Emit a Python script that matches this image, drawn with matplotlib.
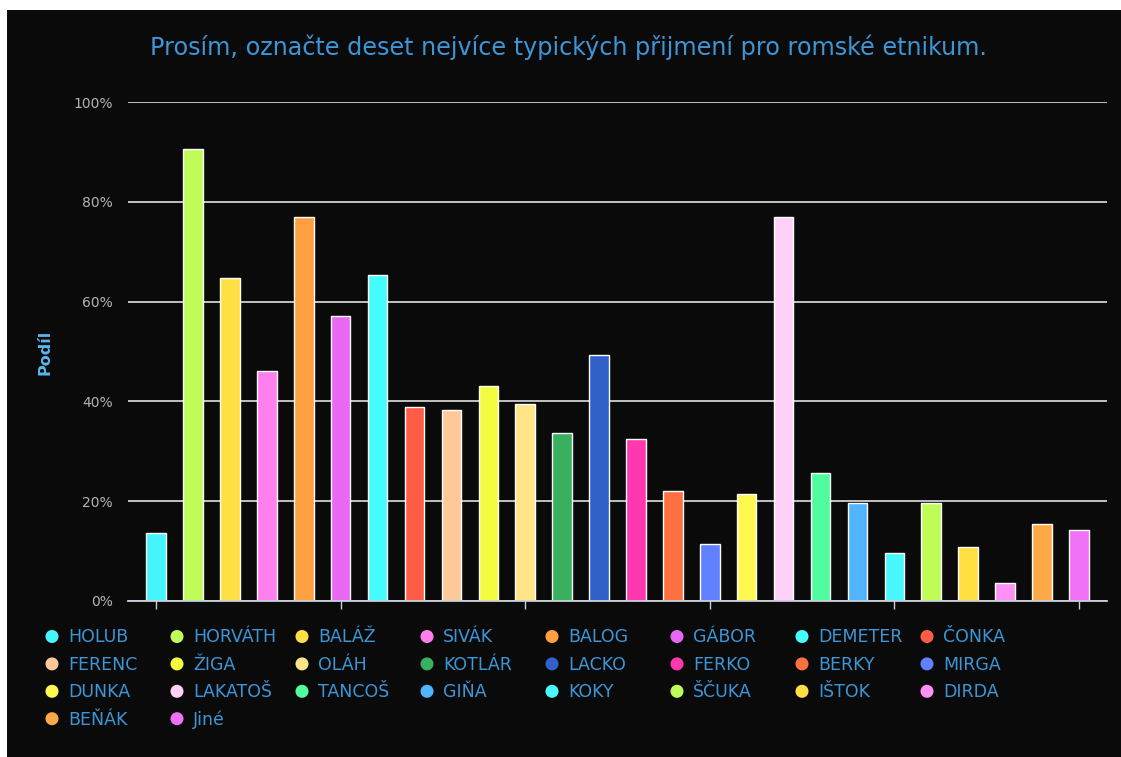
import numpy as np
import matplotlib
matplotlib.use("Agg")
import matplotlib.pyplot as plt
from matplotlib.patches import Rectangle

# ── data ───────────────────────────────────────────────────────────────────
names = ["HOLUB", "HORVÁTH", "BALÁŽ", "SIVÁK", "BALOG", "GÁBOR", "DEMETER",
         "ČONKA", "FERENC", "ŽIGA", "OLÁH", "KOTLÁR", "LACKO", "FERKO",
         "BERKY", "MIRGA", "DUNKA", "LAKATOŠ", "TANCOŠ", "GIŇA", "KOKY",
         "ŠČUKA", "IŠTOK", "DIRDA", "BEŇÁK", "Jiné"]
shares = [13.6, 90.6, 64.8, 46.1, 77.0, 57.2, 65.3, 38.9, 38.3, 43.1, 39.5,
          33.7, 49.2, 32.5, 22.1, 11.5, 21.5, 77.0, 25.7, 19.7, 9.7, 19.7,
          10.8, 3.6, 15.5, 14.3]
colors = ["#44f6fc", "#bffc5a", "#ffe044", "#ff80ec", "#ffa040", "#e868f4",
          "#44fcfc", "#ff5c48", "#ffc898", "#f4fc40", "#ffe488", "#38b060",
          "#3060c8", "#ff38b0", "#ff7040", "#6080ff", "#fff850", "#ffd0f8",
          "#50fca0", "#50b4ff", "#48f8fc", "#c0fc58", "#ffe040", "#ff90f4",
          "#ffa848", "#f070f8"]
y_ticks = [0, 20, 40, 60, 80, 100]
title = "Prosím, označte deset nejvíce typických přijmení pro romské etnikum."

BG = "#0a0a0a"
BLUE = "#3d96d8"

fig = plt.figure(figsize=(11.21, 7.57), dpi=100, facecolor="white")

# dark panel (white margin left / top like the screenshot)
fig.add_artist(Rectangle((7 / 1121, 0), 1, 747 / 757, transform=fig.transFigure,
                         facecolor=BG, edgecolor="none", zorder=-2))

# ── bars ───────────────────────────────────────────────────────────────────
ax = fig.add_axes([128 / 1121, 156 / 757, (1107 - 128) / 1121, 499 / 757])
ax.set_facecolor("none")
x = np.arange(len(names))
ax.bar(x, shares, width=0.53, color=colors, edgecolor="white", linewidth=1,
       zorder=3)

ax.set_xlim(-0.76, 25.76)
ax.set_ylim(0, 100)
ax.set_yticks(y_ticks)
ax.set_yticklabels([f"{t}%" for t in y_ticks], color="#b4b4b4", fontsize=10)
ax.tick_params(axis="y", length=0, pad=11)
ax.set_xticks(x[::5])
ax.set_xticklabels([])
ax.tick_params(axis="x", length=6, width=1, color="#c8d0d8", direction="out")
ax.grid(axis="y", color="#d0d0d0", linewidth=1.3, zorder=1)
for side in ["top", "right", "left"]:
    ax.spines[side].set_visible(False)
ax.spines["bottom"].set_color("#c8d0d8")
ax.spines["bottom"].set_linewidth(1.3)
ax.spines["bottom"].set_zorder(4)

fig.text(568 / 1121, 1 - 47 / 757, title, ha="center", va="center",
         fontsize=17.2, color=BLUE)
fig.text(45 / 1121, 1 - 352 / 757, "Podíl", rotation=90, ha="center",
         va="center", fontsize=11.5, fontweight="bold", color="#5ab8ec")

# ── legend (row-major, 8 columns) ──────────────────────────────────────────
lax = fig.add_axes([0, 0, 1, 1], facecolor="none")
lax.set_xlim(0, 1121)
lax.set_ylim(757, 0)
lax.axis("off")
for i, (name, col) in enumerate(zip(names, colors)):
    row, c = divmod(i, 8)
    cx = 52 + 125 * c
    cy = 636.5 + 27.4 * row
    lax.scatter([cx], [cy], s=88, color=col, edgecolors="none")
    lax.text(cx + 16, cy + 1, name, ha="left", va="center", fontsize=12.5,
             color=BLUE)

fig.savefig("out.png", dpi=100, facecolor=fig.get_facecolor())
